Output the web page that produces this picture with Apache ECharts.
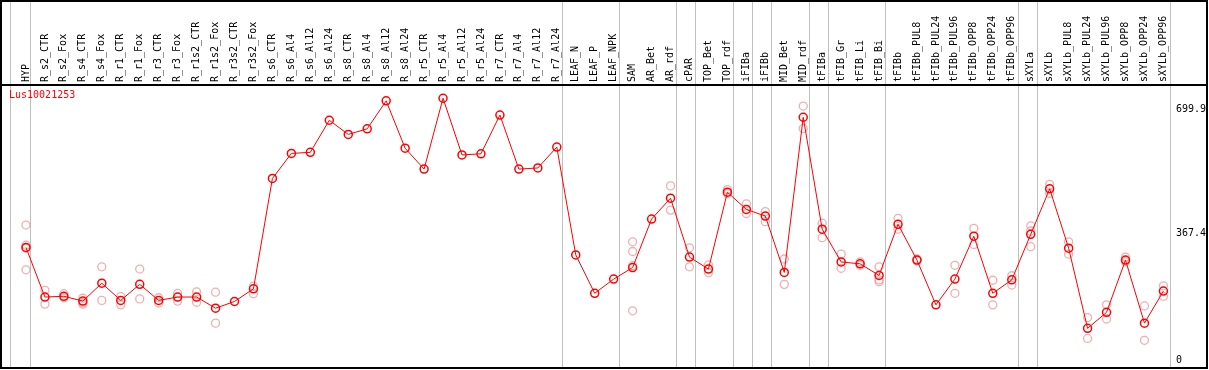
<!DOCTYPE html>
<html>
<head>
<meta charset="utf-8">
<script src="https://cdn.jsdelivr.net/npm/echarts@6/dist/echarts.min.js"></script>
<style>html,body{margin:0;padding:0;background:#fff;}#c{width:1209px;height:370px;}</style>
</head>
<body>
<div id="c"></div>
<script>
const chartTitle = 'Lus10021253';
const categories = ['HYP','R_s2_CTR','R_s2_Fox','R_s4_CTR','R_s4_Fox','R_r1_CTR','R_r1_Fox','R_r3_CTR','R_r3_Fox','R_r1s2_CTR','R_r1s2_Fox','R_r3s2_CTR','R_r3s2_Fox','R_s6_CTR','R_s6_Al4','R_s6_Al12','R_s6_Al24','R_s8_CTR','R_s8_Al4','R_s8_Al12','R_s8_Al24','R_r5_CTR','R_r5_Al4','R_r5_Al12','R_r5_Al24','R_r7_CTR','R_r7_Al4','R_r7_Al12','R_r7_Al24','LEAF_N','LEAF_P','LEAF_NPK','SAM','AR_Bet','AR_rdf','cPAR','TOP_Bet','TOP_rdf','iFIBa','iFIBb','MID_Bet','MID_rdf','tFIBa','tFIB_Gr','tFIB_Li','tFIB_Bi','tFIBb','tFIBb_PUL8','tFIBb_PUL24','tFIBb_PUL96','tFIBb_OPP8','tFIBb_OPP24','tFIBb_OPP96','sXYLa','sXYLb','sXYLb_PUL8','sXYLb_PUL24','sXYLb_PUL96','sXYLb_OPP8','sXYLb_OPP24','sXYLb_OPP96'];
const meanValues = [316,183,185,172,220,174,217,174,183,183,153,171,205,501,568,571,657,619,634,709,582,526,716,564,567,671,526,529,585,296,193,231,262,392,448,290,258,464,418,400,249,665,365,277,272,241,378,282,162,231,346,193,229,351,473,314,99,142,282,113,199];
const repCategories = ['HYP','HYP','HYP','HYP','R_s2_CTR','R_s2_CTR','R_s2_Fox','R_s2_Fox','R_s4_CTR','R_s4_CTR','R_s4_CTR','R_s4_Fox','R_s4_Fox','R_r1_CTR','R_r1_CTR','R_r1_Fox','R_r1_Fox','R_r3_CTR','R_r3_CTR','R_r3_Fox','R_r3_Fox','R_r1s2_CTR','R_r1s2_CTR','R_r1s2_Fox','R_r1s2_Fox','R_r3s2_Fox','R_r3s2_Fox','SAM','SAM','SAM','SAM','AR_rdf','AR_rdf','cPAR','cPAR','TOP_Bet','TOP_Bet','TOP_rdf','TOP_rdf','iFIBa','iFIBa','iFIBb','iFIBb','MID_Bet','MID_Bet','MID_rdf','MID_rdf','tFIBa','tFIBa','tFIB_Gr','tFIB_Gr','tFIB_Li','tFIB_Li','tFIB_Bi','tFIB_Bi','tFIB_Bi','tFIBb','tFIBb','tFIBb_PUL8','tFIBb_PUL8','tFIBb_PUL96','tFIBb_PUL96','tFIBb_OPP8','tFIBb_OPP8','tFIBb_OPP24','tFIBb_OPP24','tFIBb_OPP96','tFIBb_OPP96','sXYLa','sXYLa','sXYLa','sXYLb','sXYLb','sXYLb_PUL8','sXYLb_PUL8','sXYLb_PUL24','sXYLb_PUL24','sXYLb_PUL96','sXYLb_PUL96','sXYLb_OPP8','sXYLb_OPP8','sXYLb_OPP24','sXYLb_OPP24','sXYLb_OPP96','sXYLb_OPP96'];
const repValues = [376,322,314,256,201,164,192,181,180,164,168,264,174,184,162,258,178,181,167,193,172,197,169,196,113,212,192,331,305,267,146,481,416,315,264,269,248,471,460,433,407,412,385,285,217,695,635,381,342,298,260,277,268,264,229,224,394,365,285,280,268,193,367,324,228,162,240,215,374,318,360,485,461,331,298,128,72,162,124,290,278,159,67,213,185];
const groupSizes = [1,28,3,3,1,2,1,1,2,1,3,7,1,7];
const yTickLabels = [367.4, 699.9];
const yZeroLabel = [0];
const refLineValue = 367.4;

const FONT = 'DejaVu Sans Mono';
// layout
const PLOT_LEFT = 16.5, PLOT_W = 1159, FULL_W = 1209;
const band = PLOT_W / categories.length;
const fullMin = -0.5 - PLOT_LEFT / band;
const fullMax = categories.length - 0.5 + (FULL_W - PLOT_LEFT - PLOT_W) / band;

// group separator positions (in category-index units)
const bounds = [-1];
let acc = -1;
groupSizes.forEach(s => { acc += s; bounds.push(acc); });
const sepPositions = bounds.map((b, i) => [b + (i === 0 ? 0.17 : 0.24)]);

const chart = echarts.init(document.getElementById('c'), null, { renderer: 'canvas' });
chart.setOption({
  animation: false,
  backgroundColor: '#fff',
  title: {
    text: chartTitle, left: 9, top: 90, padding: 0,
    textStyle: { color: '#ff0000', fontSize: 10, fontFamily: FONT, fontWeight: 'normal' }
  },
  grid: [
    { left: 0, width: FULL_W, top: 0, height: 369 },
    { left: PLOT_LEFT, width: PLOT_W, top: 85, height: 284 }
  ],
  xAxis: [
    {
      type: 'category', data: categories, gridIndex: 1, position: 'top',
      boundaryGap: true,
      axisLine: { show: false }, axisTick: { show: false }, splitLine: { show: false },
      axisLabel: { rotate: 90, interval: 0, margin: 3, fontSize: 10, fontFamily: FONT, color: '#000' }
    },
    { type: 'value', gridIndex: 1, min: -0.5, max: categories.length - 0.5, show: false },
    { type: 'value', gridIndex: 0, min: fullMin, max: fullMax, show: false }
  ],
  yAxis: [
    {
      type: 'value', gridIndex: 1, min: -10, max: 751.5, position: 'right',
      axisLine: { show: false }, axisTick: { show: false }, splitLine: { show: false },
      axisLabel: { customValues: yTickLabels, margin: 3, verticalAlign: 'top', fontSize: 10, fontFamily: FONT, color: '#000', formatter: v => String(v) }
    },
    {
      type: 'value', gridIndex: 1, min: -10, max: 751.5, position: 'right',
      axisLine: { show: false }, axisTick: { show: false }, splitLine: { show: false },
      axisLabel: { customValues: yZeroLabel, margin: 3, verticalAlign: 'bottom', fontSize: 10, fontFamily: FONT, color: '#000', formatter: v => String(v) }
    },
    { type: 'value', gridIndex: 0, min: 0, max: 1, show: false }
  ],
  graphic: [
    { type: 'rect', shape: { x: 1, y: 1, width: 1206, height: 367 }, style: { fill: 'none', stroke: '#000', lineWidth: 2 }, z: 100 },
    { type: 'line', shape: { x1: 0, y1: 85, x2: 1208, y2: 85 }, style: { stroke: '#000', lineWidth: 2 }, z: 100 }
  ],
  series: [
    {
      type: 'custom', xAxisIndex: 2, yAxisIndex: 2, silent: true, clip: false,
      data: sepPositions,
      encode: { x: 0 },
      renderItem: function (params, api) {
        const p = api.coord([api.value(0), 0]);
        const cs = params.coordSys;
        const x = Math.floor(p[0]) + 0.5;
        return {
          type: 'line',
          shape: { x1: x, y1: cs.y, x2: x, y2: cs.y + cs.height },
          style: { stroke: '#c0c0c0', lineWidth: 1 }
        };
      },
      z: 1
    },
    {
      type: 'line', xAxisIndex: 1, yAxisIndex: 0, data: [], clip: false, silent: true,
      markLine: {
        silent: true, symbol: 'none', label: { show: false },
        lineStyle: { color: '#c0c0c0', width: 1, type: 'solid' },
        data: [[{ xAxis: -1.33, yAxis: refLineValue }, { xAxis: 60.6, yAxis: refLineValue }]]
      }
    },
    {
      type: 'scatter', xAxisIndex: 0, yAxisIndex: 0,
      data: repCategories.map((c, i) => [c, repValues[i]]),
      symbol: 'circle', symbolSize: 8,
      itemStyle: { color: 'rgba(0,0,0,0)', borderColor: '#ec9a9a', borderWidth: 1.3 },
      z: 3
    },
    {
      type: 'line', xAxisIndex: 0, yAxisIndex: 0, data: meanValues,
      symbol: 'circle', symbolSize: 8, showAllSymbol: true,
      lineStyle: { color: '#ff0000', width: 1 },
      itemStyle: { color: 'rgba(0,0,0,0)', borderColor: '#ff0000', borderWidth: 1.5 },
      z: 4
    }
  ]
});
</script>
</body>
</html>
